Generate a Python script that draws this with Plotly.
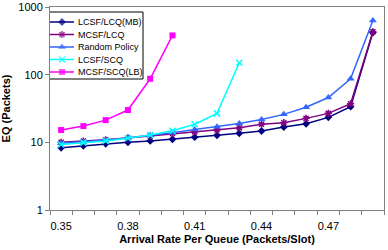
import plotly.graph_objects as go

categories = ["0.35", "0.36", "0.37", "0.38", "0.39", "0.40", "0.41", "0.42",
              "0.43", "0.44", "0.45", "0.46", "0.47", "0.48", "0.49"]
shown_labels = ["0.35", "0.38", "0.41", "0.44", "0.47"]

lcsf_lcq_mb = [8.3, 8.9, 9.5, 10.0, 10.5, 11.1, 11.9, 12.7, 13.6, 14.7, 16.8, 18.8, 23.4, 33.6, 420]
mcsf_lcq = [10.0, 10.4, 10.9, 11.6, 12.4, 13.6, 14.3, 15.2, 16.4, 18.5, 19.5, 22.6, 26.8, 37.2, 430]
random_policy = [9.7, 10.2, 10.8, 11.7, 12.6, 13.9, 15.5, 17.0, 19.0, 21.8, 25.9, 33.0, 46.0, 87.0, 630]
lcsf_scq = [9.3, 9.9, 10.5, 11.5, 12.8, 14.8, 18.5, 26.8, 150]
mcsf_scq_lb = [15.2, 17.4, 21.3, 30.0, 87.0, 380]

series = [
    ("LCSF/LCQ(MB)", lcsf_lcq_mb, "#000080", "diamond", 6),
    ("MCSF/LCQ", mcsf_lcq, "#800080", "asterisk", 6),
    ("Random Policy", random_policy, "#3366FF", "triangle-up", 7),
    ("LCSF/SCQ", lcsf_scq, "#00FFFF", "x-thin", 6),
    ("MCSF/SCQ(LB)", mcsf_scq_lb, "#FF00FF", "square", 6),
]

fig = go.Figure()


def marker_for(color, sym, size):
    return dict(symbol=sym, size=size, color=color,
                line=dict(color=color, width=1.5 if sym in ("asterisk", "x-thin") else 0))


for name, vals, color, sym, size in series:
    fig.add_trace(go.Scatter(
        x=categories[:len(vals)], y=vals, name=name, mode="lines+markers",
        line=dict(color=color, width=1.5), marker=marker_for(color, sym, size),
        showlegend=False,
    ))

# Custom compact legend drawn on an overlay axis measured in pixels
legend_rows = [22, 34.5, 47, 59.5, 72]
for (name, vals, color, sym, size), ry in zip(series, legend_rows):
    fig.add_trace(go.Scatter(
        x=[50, 62, 74], y=[ry, ry, ry], mode="lines+markers",
        line=dict(color=color, width=1.5),
        marker=dict(symbol=sym, size=[0, size, 0], color=color,
                    line=dict(color=color, width=1.5 if sym in ("asterisk", "x-thin") else 0)),
        xaxis="x2", yaxis="y2", showlegend=False, hoverinfo="skip",
    ))
    fig.add_annotation(x=76, y=ry, xref="x2", yref="y2", text=name, showarrow=False,
                       xanchor="left", yanchor="middle", font=dict(size=9))

fig.add_shape(type="rect", xref="x2", yref="y2", x0=48, x1=143, y0=12, y1=79,
              line=dict(color="black", width=1), fillcolor="white", layer="below")

ticktext = [c if c in shown_labels else "" for c in categories]

fig.update_layout(
    width=388, height=250,
    margin=dict(l=50, r=4, t=7, b=40),
    paper_bgcolor="white", plot_bgcolor="white",
    font=dict(family="Liberation Sans, Arial, sans-serif", size=11, color="black"),
    showlegend=False,
    xaxis=dict(
        type="category", categoryorder="array", categoryarray=categories,
        tickmode="array", tickvals=categories, ticktext=ticktext, tickangle=0,
        tickson="boundaries", ticks="outside", ticklen=4, tickcolor="#808080",
        ticklabelstandoff=6,
        showline=True, linecolor="#808080", linewidth=1, mirror=True,
        showgrid=False, zeroline=False, automargin=False,
        title=dict(text="<b>Arrival Rate Per Queue (Packets/Slot)</b>", font=dict(size=11), standoff=4),
        range=[-0.5, 14.5],
    ),
    yaxis=dict(
        type="log", range=[0, 3],
        tickmode="array", tickvals=[1, 10, 100, 1000], ticktext=["1", "10", "100", "1000"],
        ticks="outside", ticklen=4, tickcolor="#808080",
        showline=True, linecolor="#808080", linewidth=1, mirror=True,
        showgrid=False, zeroline=False, automargin=False,
        title=dict(text="<b>EQ (Packets)</b>", font=dict(size=11), standoff=6),
    ),
    xaxis2=dict(overlaying="x", anchor="y2", range=[50, 384], visible=False, fixedrange=True),
    yaxis2=dict(overlaying="y", anchor="x2", range=[210, 7], visible=False, fixedrange=True),
)

fig.write_html("out.html", config={"displayModeBar": False},
               post_script="document.body.style.margin='0';document.body.style.overflow='hidden';")
